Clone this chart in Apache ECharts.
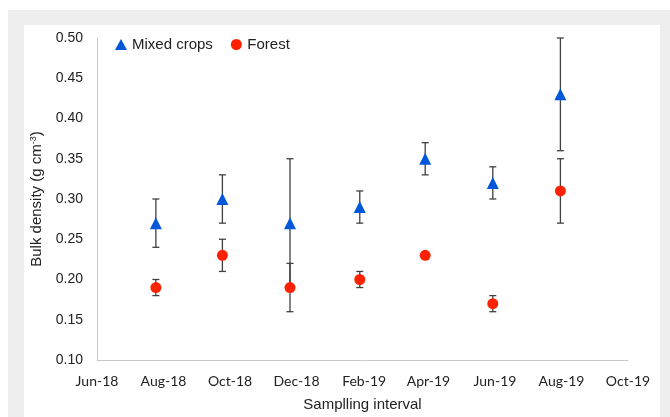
<!DOCTYPE html>
<html>
<head>
<meta charset="utf-8">
<script src="https://cdn.jsdelivr.net/npm/echarts@6/dist/echarts.min.js"></script>
<style>
html,body{margin:0;padding:0;background:#fff;}
#outer{position:absolute;left:8px;top:10px;width:662px;height:407px;background:#eeeeee;}
#inner{position:absolute;left:24px;top:25px;width:636px;height:392px;background:#fff;}
#chart{position:absolute;left:0;top:0;width:670px;height:417px;}
</style>
</head>
<body>
<div id="outer"></div>
<div id="inner"></div>
<div id="chart"></div>
<script>
// Sampling dates
const sampleDates = ['2018-07-25','2018-09-24','2018-11-25','2019-01-28','2019-03-29','2019-05-30','2019-07-31'];
// Mixed crops
const mixedMean = [0.27, 0.30, 0.27, 0.29, 0.35, 0.32, 0.43];
const mixedErr  = [0.03, 0.03, 0.08, 0.02, 0.02, 0.02, 0.07];
// Forest
const forestMean = [0.19, 0.23, 0.19, 0.20, 0.23, 0.17, 0.31];
const forestErr  = [0.01, 0.02, 0.03, 0.01, 0.0, 0.01, 0.04];
// X tick labels
const tickDates  = ['2018-06-01','2018-08-01','2018-10-01','2018-12-01','2019-02-01','2019-04-01','2019-06-01','2019-08-01','2019-10-01'];
const tickLabels = ['Jun-18','Aug-18','Oct-18','Dec-18','Feb-19','Apr-19','Jun-19','Aug-19','Oct-19'];

const DAY = 86400000;
function ts(s){ const p = s.split('-').map(Number); return Date.UTC(p[0], p[1]-1, p[2]); }
const t0 = ts(tickDates[0]);
function dayIdx(s){ return Math.round((ts(s) - t0) / DAY); }
const tickDays = tickDates.map(dayIdx);
const xs = sampleDates.map(dayIdx);

const mixedData = xs.map((x,i)=>[x, mixedMean[i]]);
const forestData = xs.map((x,i)=>[x, forestMean[i]]);
const mixedErrData = xs.map((x,i)=>[x, mixedMean[i]-mixedErr[i], mixedMean[i]+mixedErr[i]]);
const forestErrData = xs.map((x,i)=>[x, forestMean[i]-forestErr[i], forestMean[i]+forestErr[i]]);

function errRender(params, api){
  const x = api.value(0), lo = api.value(1), hi = api.value(2);
  if (hi - lo < 1e-9) return null;
  const p1 = api.coord([x, hi]), p2 = api.coord([x, lo]);
  const w = 3.5;
  const style = {stroke:'#404040', lineWidth:1.3};
  return {type:'group', children:[
    {type:'line', shape:{x1:p1[0],y1:p1[1],x2:p2[0],y2:p2[1]}, style:style},
    {type:'line', shape:{x1:p1[0]-w,y1:p1[1],x2:p1[0]+w,y2:p1[1]}, style:style},
    {type:'line', shape:{x1:p2[0]-w,y1:p2[1],x2:p2[0]+w,y2:p2[1]}, style:style}
  ]};
}

const chart = echarts.init(document.getElementById('chart'), null, {renderer:'canvas'});
chart.setOption({
  backgroundColor:'transparent',
  animation:false,
  grid:{left:97, right:42, top:38, bottom:52, containLabel:false},
  legend:{
    left:110, top:32, itemWidth:12, itemHeight:11, itemGap:18,
    textStyle:{fontFamily:'Liberation Sans', fontSize:15, color:'#222'},
    data:[{name:'Mixed crops', icon:'triangle'},{name:'Forest', icon:'circle'}]
  },
  xAxis:{
    type:'value',
    min:tickDays[0], max:tickDays[tickDays.length-1],
    axisLine:{lineStyle:{color:'#c8c8c8', width:1}},
    axisTick:{show:false},
    splitLine:{show:false},
    axisLabel:{
      customValues:tickDays,
      fontFamily:'Lato', fontSize:14, color:'#222', margin:14,
      formatter:function(v){ const i = tickDays.indexOf(v); return i>=0 ? tickLabels[i] : ''; }
    },
    name:'Samplling interval', nameLocation:'middle', nameGap:37,
    nameTextStyle:{fontFamily:'Liberation Sans', fontSize:15, color:'#222'}
  },
  yAxis:{
    type:'value', min:0.10, max:0.50, interval:0.05,
    axisLine:{show:true, lineStyle:{color:'#c8c8c8', width:1}},
    axisTick:{show:false},
    splitLine:{show:false},
    axisLabel:{fontFamily:'Liberation Sans', fontSize:14, color:'#222', margin:14,
      formatter:function(v){ return v.toFixed(2); }},
    name:'Bulk density (g cm{sup|-3})', nameLocation:'middle', nameGap:49, nameRotate:90,
    nameTextStyle:{fontFamily:'Liberation Sans', fontSize:15, color:'#222',
      rich:{sup:{fontFamily:'Liberation Sans', fontSize:9, color:'#222', verticalAlign:'top', padding:[0,0,8,0]}}}
  },
  series:[
    {name:'MixedErr', type:'custom', renderItem:errRender, data:mixedErrData, encode:{x:0, y:[1,2]}, z:1, silent:true},
    {name:'ForestErr', type:'custom', renderItem:errRender, data:forestErrData, encode:{x:0, y:[1,2]}, z:1, silent:true},
    {name:'Mixed crops', type:'scatter', symbol:'triangle', symbolSize:12, data:mixedData, itemStyle:{color:'#0057d9', opacity:1}, z:3},
    {name:'Forest', type:'scatter', symbol:'circle', symbolSize:11, data:forestData, itemStyle:{color:'#ff2200', opacity:1}, z:3}
  ]
});
</script>
</body>
</html>
